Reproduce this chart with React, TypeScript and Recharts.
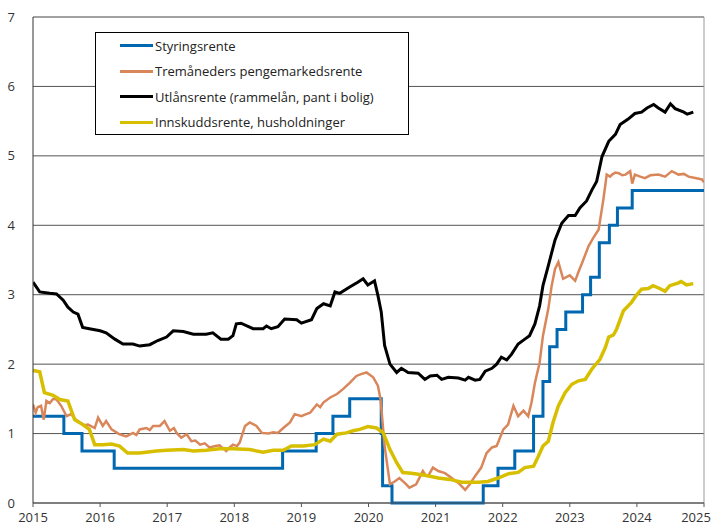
import { CartesianGrid, Line, LineChart, ReferenceLine, XAxis, YAxis } from "recharts";

const years = [2015, 2016, 2017, 2018, 2019, 2020, 2021, 2022, 2023, 2024, 2025];
const yTicks = [0, 1, 2, 3, 4, 5, 6, 7];

// Styringsrente (step changes)
const policyX = [2015, 2015.46, 2015.73, 2016.21, 2018.72, 2019.22, 2019.47, 2019.72, 2020.19, 2020.21, 2020.35, 2021.71, 2021.93, 2022.18, 2022.46, 2022.6, 2022.7, 2022.81, 2022.94, 2023.19, 2023.31, 2023.44, 2023.59, 2023.71, 2023.93, 2025];
const policyY = [1.25, 1.0, 0.75, 0.5, 0.75, 1.0, 1.25, 1.5, 1.0, 0.25, 0, 0.25, 0.5, 0.75, 1.25, 1.75, 2.25, 2.5, 2.75, 3.0, 3.25, 3.75, 4.0, 4.25, 4.5, 4.5];

// Tremåneders pengemarkedsrente
const niborX = [2015, 2015.04, 2015.07, 2015.12, 2015.16, 2015.2, 2015.25, 2015.3, 2015.35, 2015.42, 2015.5, 2015.57, 2015.64, 2015.7, 2015.76, 2015.82, 2015.92, 2015.97, 2016.04, 2016.09, 2016.17, 2016.29, 2016.39, 2016.49, 2016.54, 2016.59, 2016.69, 2016.74, 2016.79, 2016.89, 2016.96, 2017.04, 2017.1, 2017.14, 2017.21, 2017.29, 2017.36, 2017.42, 2017.49, 2017.56, 2017.63, 2017.72, 2017.78, 2017.88, 2017.93, 2017.98, 2018.04, 2018.08, 2018.16, 2018.23, 2018.33, 2018.41, 2018.51, 2018.58, 2018.65, 2018.73, 2018.83, 2018.9, 2019.0, 2019.07, 2019.13, 2019.23, 2019.28, 2019.33, 2019.43, 2019.53, 2019.62, 2019.72, 2019.82, 2019.9, 2019.97, 2020.07, 2020.14, 2020.18, 2020.24, 2020.32, 2020.39, 2020.46, 2020.54, 2020.61, 2020.71, 2020.81, 2020.85, 2020.89, 2020.96, 2021.04, 2021.14, 2021.24, 2021.34, 2021.44, 2021.51, 2021.59, 2021.68, 2021.76, 2021.84, 2021.91, 2021.96, 2022.01, 2022.08, 2022.16, 2022.23, 2022.31, 2022.38, 2022.43, 2022.48, 2022.55, 2022.6, 2022.68, 2022.73, 2022.78, 2022.83, 2022.9, 2023.0, 2023.08, 2023.13, 2023.18, 2023.28, 2023.35, 2023.43, 2023.5, 2023.55, 2023.6, 2023.63, 2023.68, 2023.73, 2023.78, 2023.83, 2023.9, 2023.93, 2023.97, 2024.05, 2024.12, 2024.2, 2024.32, 2024.42, 2024.52, 2024.62, 2024.7, 2024.77, 2024.87, 2024.97, 2025.0];
const niborY = [1.42, 1.3, 1.38, 1.4, 1.2, 1.47, 1.44, 1.5, 1.49, 1.4, 1.25, 1.28, 1.2, 1.16, 1.12, 1.13, 1.08, 1.23, 1.11, 1.18, 1.06, 0.99, 0.96, 1.01, 0.98, 1.06, 1.08, 1.05, 1.11, 1.11, 1.18, 1.04, 1.08, 1.01, 0.94, 0.99, 0.89, 0.9, 0.84, 0.86, 0.8, 0.82, 0.83, 0.75, 0.8, 0.84, 0.82, 0.87, 1.11, 1.16, 1.11, 1.01, 1.0, 1.02, 1.01, 1.08, 1.16, 1.28, 1.25, 1.28, 1.3, 1.42, 1.38, 1.45, 1.52, 1.57, 1.64, 1.73, 1.83, 1.86, 1.88, 1.81, 1.69, 1.49, 0.82, 0.27, 0.31, 0.36, 0.29, 0.22, 0.27, 0.46, 0.4, 0.39, 0.51, 0.46, 0.43, 0.36, 0.29, 0.19, 0.27, 0.39, 0.51, 0.72, 0.8, 0.82, 0.94, 1.06, 1.13, 1.4, 1.25, 1.33, 1.25, 1.45, 1.73, 2.02, 2.41, 2.8, 3.13, 3.37, 3.47, 3.23, 3.28, 3.2, 3.33, 3.45, 3.7, 3.82, 3.94, 4.37, 4.73, 4.7, 4.73, 4.76, 4.75, 4.72, 4.73, 4.78, 4.6, 4.73, 4.7, 4.68, 4.72, 4.73, 4.7, 4.78, 4.73, 4.74, 4.7, 4.68, 4.66, 4.62];

// Utlånsrente (rammelån, pant i bolig)
const lendX = [2015, 2015.1, 2015.25, 2015.35, 2015.45, 2015.52, 2015.6, 2015.67, 2015.74, 2015.84, 2016.0, 2016.09, 2016.22, 2016.34, 2016.49, 2016.59, 2016.74, 2016.86, 2016.99, 2017.09, 2017.24, 2017.39, 2017.58, 2017.68, 2017.8, 2017.91, 2017.98, 2018.03, 2018.1, 2018.28, 2018.43, 2018.48, 2018.55, 2018.65, 2018.75, 2018.93, 2019.0, 2019.15, 2019.23, 2019.33, 2019.43, 2019.5, 2019.57, 2019.72, 2019.84, 2019.92, 2019.99, 2020.09, 2020.14, 2020.19, 2020.24, 2020.32, 2020.42, 2020.49, 2020.59, 2020.74, 2020.84, 2020.92, 2021.02, 2021.09, 2021.19, 2021.34, 2021.44, 2021.49, 2021.59, 2021.66, 2021.74, 2021.84, 2021.91, 2021.98, 2022.06, 2022.13, 2022.23, 2022.33, 2022.4, 2022.48, 2022.55, 2022.6, 2022.68, 2022.78, 2022.88, 2022.98, 2023.08, 2023.15, 2023.25, 2023.33, 2023.4, 2023.48, 2023.58, 2023.68, 2023.75, 2023.87, 2023.97, 2024.07, 2024.15, 2024.25, 2024.32, 2024.42, 2024.5, 2024.57, 2024.7, 2024.75, 2024.84];
const lendY = [3.18, 3.04, 3.02, 3.01, 2.92, 2.82, 2.75, 2.72, 2.53, 2.51, 2.48, 2.45, 2.36, 2.29, 2.29, 2.26, 2.28, 2.34, 2.39, 2.48, 2.47, 2.43, 2.43, 2.45, 2.36, 2.36, 2.41, 2.58, 2.59, 2.51, 2.51, 2.55, 2.51, 2.54, 2.65, 2.64, 2.59, 2.64, 2.8, 2.87, 2.84, 3.04, 3.02, 3.11, 3.18, 3.23, 3.14, 3.2, 2.99, 2.75, 2.27, 2.0, 1.88, 1.94, 1.88, 1.87, 1.78, 1.83, 1.84, 1.78, 1.81, 1.8, 1.77, 1.81, 1.77, 1.78, 1.9, 1.94, 2.0, 2.1, 2.06, 2.14, 2.29, 2.36, 2.41, 2.58, 2.84, 3.13, 3.42, 3.79, 4.03, 4.14, 4.14, 4.25, 4.35, 4.51, 4.63, 4.99, 5.21, 5.31, 5.45, 5.53, 5.61, 5.63, 5.69, 5.74, 5.69, 5.63, 5.75, 5.68, 5.63, 5.6, 5.63];

// Innskuddsrente, husholdninger
const depoX = [2015, 2015.1, 2015.17, 2015.3, 2015.4, 2015.52, 2015.62, 2015.74, 2015.84, 2015.92, 2016.04, 2016.17, 2016.29, 2016.41, 2016.59, 2016.84, 2016.99, 2017.24, 2017.39, 2017.58, 2017.78, 2017.98, 2018.23, 2018.43, 2018.58, 2018.73, 2018.85, 2019.03, 2019.2, 2019.33, 2019.43, 2019.53, 2019.67, 2019.77, 2019.87, 2019.99, 2020.12, 2020.22, 2020.32, 2020.42, 2020.51, 2020.64, 2020.84, 2021.04, 2021.21, 2021.39, 2021.64, 2021.78, 2021.93, 2022.08, 2022.23, 2022.33, 2022.46, 2022.53, 2022.6, 2022.68, 2022.75, 2022.83, 2022.93, 2023.03, 2023.13, 2023.23, 2023.33, 2023.45, 2023.53, 2023.58, 2023.65, 2023.7, 2023.8, 2023.92, 2023.99, 2024.07, 2024.17, 2024.24, 2024.34, 2024.42, 2024.49, 2024.62, 2024.66, 2024.74, 2024.84];
const depoY = [1.91, 1.89, 1.59, 1.55, 1.49, 1.47, 1.2, 1.13, 1.06, 0.84, 0.84, 0.85, 0.82, 0.72, 0.72, 0.75, 0.76, 0.77, 0.75, 0.76, 0.78, 0.78, 0.77, 0.73, 0.76, 0.76, 0.82, 0.82, 0.84, 0.92, 0.89, 0.99, 1.01, 1.04, 1.06, 1.1, 1.08, 1.01, 0.77, 0.58, 0.44, 0.43, 0.4, 0.36, 0.34, 0.3, 0.3, 0.31, 0.36, 0.42, 0.44, 0.51, 0.53, 0.67, 0.82, 0.89, 1.16, 1.4, 1.59, 1.71, 1.76, 1.78, 1.93, 2.07, 2.24, 2.39, 2.42, 2.51, 2.77, 2.89, 2.99, 3.08, 3.09, 3.13, 3.09, 3.05, 3.13, 3.17, 3.19, 3.14, 3.16];

const zip = (xs: number[], ys: number[]) => xs.map((x, i) => ({ x, v: ys[i] }));

const series = [
  { name: "Styringsrente", color: "#0067b1", width: 3, data: zip(policyX, policyY), step: true },
  { name: "Tremåneders pengemarkedsrente", color: "#d9875a", width: 2.5, data: zip(niborX, niborY), step: false },
  { name: "Utlånsrente (rammelån, pant i bolig)", color: "#000000", width: 3, data: zip(lendX, lendY), step: false },
  { name: "Innskuddsrente, husholdninger", color: "#d7bf00", width: 3.5, data: zip(depoX, depoY), step: false },
];

const font = "'Open Sans', sans-serif";

// last year label sits a bit left so it stays inside the picture
function YearTick({ x, y, payload }: any) {
  const dx = payload.value === 2025 ? -6 : 0;
  return (
    <text x={x + dx} y={y} dy={13} textAnchor="middle" fontSize={13} fill="#333" fontFamily={font}>
      {payload.value}
    </text>
  );
}

function LegendBox() {
  return (
    <div
      style={{
        position: "absolute",
        left: 95,
        top: 32,
        width: 314,
        height: 103,
        border: "1.5px solid #000",
        background: "#fff",
        padding: "0 0 0 24px",
        fontFamily: font,
        fontSize: 13,
        color: "#222",
        boxSizing: "border-box",
      }}
    >
      {series.map((s) => (
        <div key={s.name} style={{ display: "flex", alignItems: "center", height: 25.5 }}>
          <span style={{ display: "inline-block", width: 33, height: 3, background: s.color, marginRight: 2 }} />
          <span>{s.name}</span>
        </div>
      ))}
    </div>
  );
}

export default function App() {
  return (
    <div style={{ position: "absolute", left: 0, top: 0, width: 718, height: 531, background: "#fff" }}>
      <LineChart width={718} height={531} margin={{ top: 17, right: 14, left: 0, bottom: 0 }}>
        <CartesianGrid vertical={false} stroke="#555" strokeWidth={1} />
        <XAxis
          dataKey="x"
          type="number"
          domain={[2015, 2025]}
          ticks={years}
          allowDataOverflow
          height={28}
          stroke="#555"
          tickSize={4}
          tick={<YearTick />}
          tickMargin={2}
        />
        <YAxis
          type="number"
          domain={[0, 7]}
          ticks={yTicks}
          width={33}
          stroke="#333"
          tickLine={false}
          tick={{ fontSize: 13, fill: "#333", fontFamily: font }}
          tickMargin={12}
        />
        <ReferenceLine x={2025} stroke="#999" />
        <ReferenceLine y={7} stroke="#999" />
        {series.map((s) => (
          <Line
            key={s.name}
            data={s.data}
            dataKey="v"
            name={s.name}
            type={s.step ? "stepAfter" : "linear"}
            stroke={s.color}
            strokeWidth={s.width}
            dot={false}
            activeDot={false}
            isAnimationActive={false}
          />
        ))}
      </LineChart>
      <LegendBox />
    </div>
  );
}
